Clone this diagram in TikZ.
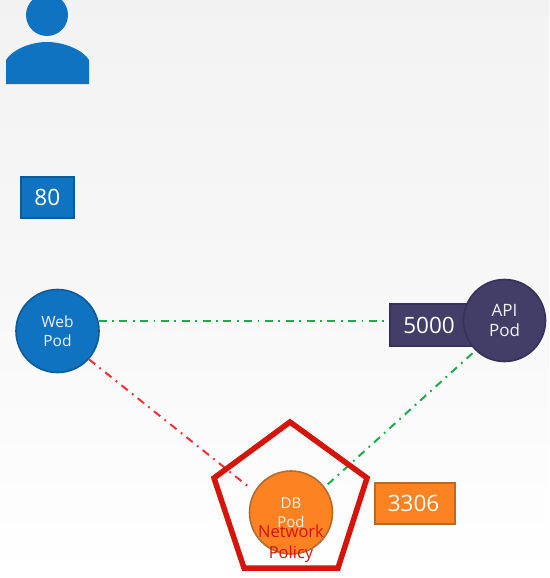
\documentclass[tikz,border=0pt]{standalone}
\usepackage{fontspec}
\setmainfont{Open Sans}
\definecolor{msblue}{HTML}{0F73C2}
\definecolor{msblueedge}{HTML}{0B5A99}
\definecolor{apicol}{HTML}{433E68}
\definecolor{apiedge}{HTML}{35315A}
\definecolor{dbcol}{HTML}{FD8222}
\definecolor{dbedge}{HTML}{B56A2E}
\definecolor{polred}{HTML}{D5140B}
\definecolor{linkgreen}{HTML}{22A84F}
\definecolor{linkred}{HTML}{EE3235}
\definecolor{podtext}{HTML}{F0F0F0}
\tikzset{
  pod/.style={circle,draw,line width=1.6pt,minimum size=#1,inner sep=0pt,text=podtext,align=center,font=\fontsize{15.5}{18.5}\selectfont},
  port/.style={rectangle,draw,line width=1.6pt,inner sep=0pt,text=white,font=\fontsize{22.5}{27}\selectfont},
  link/.style={line width=2pt,dash pattern=on 8pt off 5.5pt on 1.8pt off 5.5pt},
}
\begin{document}
\begin{tikzpicture}[x=1pt,y=-1pt]
\useasboundingbox (0,0) rectangle (549,578);
\shade[top color=black!5,bottom color=white,middle color=black!3] (0,0) rectangle (549,578);
% user icon
\fill[msblue] (47,15) circle (21);
\fill[msblue] (6,84) -- (6,60) .. controls (12,50) and (30,42) .. (47,42) .. controls (64,42) and (83,50) .. (89,60) -- (89,84) -- cycle;
% port boxes
\node[port,fill=msblue,draw=msblueedge,minimum width=53pt,minimum height=41pt] (p80) at (47.3,197.5) {80};
\node[port,fill=apicol,draw=apiedge,minimum width=88pt,minimum height=42pt] (p5000) at (434,325) {\hspace*{-10pt}5000};
\node[port,fill=dbcol,draw=dbedge,minimum width=80pt,minimum height=41pt] (p3306) at (415,503.5) {\hspace*{-3pt}3306};
% pods
\node[pod=83pt,fill=msblue,draw=msblueedge] (web) at (57.5,331) {Web\\Pod};
\node[pod=82pt,fill=apicol,draw=apiedge,font=\fontsize{17}{20.5}\selectfont] (api) at (504.5,320.5) {API\\Pod};
\node[pod=83pt,fill=dbcol,draw=dbedge,font=\fontsize{15}{19}\selectfont] (db) at (291,512.5) {DB\\Pod};
% links
\draw[link,linkgreen] (web.14) -- (web.14 -| p5000.west);
\draw[link,linkgreen,shorten <=4pt] (db.37) -- (api.226);
\draw[link,linkred,shorten >=5pt] (web.-42) -- (db.150);
% policy
\coordinate (pa) at (290,422);
\coordinate (pb) at (367,478);
\coordinate (pc) at (338,568);
\coordinate (pd) at (244,568);
\coordinate (pe) at (214,478);
\draw[polred,line width=5.5pt,line join=miter] (pa) -- (pb) -- (pc) -- (pd) -- (pe) -- cycle;
\node[text=polred,align=center,inner sep=0pt,font=\fontsize{16.5}{21}\selectfont] (policy) at (291,543.5) {Network\\Policy};
\end{tikzpicture}
\end{document}
